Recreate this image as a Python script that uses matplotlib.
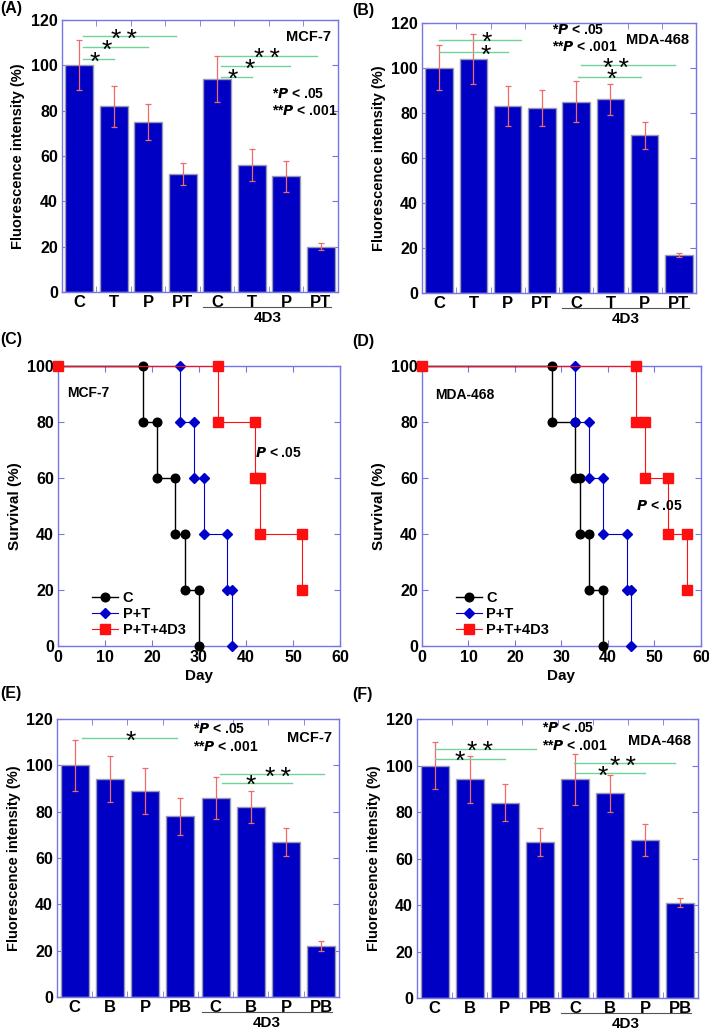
import matplotlib.pyplot as plt
import matplotlib.transforms as mtransforms
import numpy as np
from matplotlib.ticker import MultipleLocator, FixedLocator

plt.rcParams['font.family'] = ['Liberation Sans', 'DejaVu Sans']
plt.rcParams['font.weight'] = 'bold'
plt.rcParams['axes.labelweight'] = 'bold'

SPINE = '#7575e6'
BAR = '#0000c4'
ERR = '#f06a6a'
SIG = '#6fd39a'

# bar panels
labels_t = ['C', 'T', 'P', 'PT', 'C', 'T', 'P', 'PT']
labels_b = ['C', 'B', 'P', 'PB', 'C', 'B', 'P', 'PB']

a_vals = [100, 82, 75, 52, 94, 56, 51, 20]
a_err = [11, 9, 8, 5, 10, 7, 7, 1.5]
b_vals = [100, 104, 83, 82, 85, 86, 70, 17]
b_err = [10, 11, 9, 8, 9, 7, 6, 1]
e_vals = [100, 94, 89, 78, 86, 82, 67, 22]
e_err = [11, 10, 10, 8, 9, 7, 6, 2]
f_vals = [100, 94, 84, 67, 94, 88, 68, 41]
f_err = [10, 10, 8, 6, 11, 8, 7, 2]

# significance bars: (x_start, x_end, y, stars, star x)
a_sig = [(0.1, 1.0, 102.7, 1, 0.45), (0.1, 2.0, 107.9, 1, 0.8),
         (0.1, 2.8, 112.9, 2, 1.3), (4.1, 5.0, 95.0, 1, 4.45),
         (4.1, 6.1, 99.6, 1, 4.95), (4.1, 6.9, 104.3, 2, 5.45)]
b_sig = [(0.0, 2.4, 112.6, 1, 1.4), (0.0, 2.0, 107.0, 1, 1.35),
         (4.15, 6.9, 101.2, 2, 5.15), (4.05, 5.9, 96.2, 1, 5.05)]
e_sig = [(0.22, 2.9, 111.7, 1, 1.6), (4.13, 7.07, 96.1, 2, 5.76),
         (4.18, 6.17, 92.5, 1, 4.99)]
f_sig = [(0.02, 2.89, 107.3, 2, 1.3), (0.02, 2.0, 103.0, 1, 0.73),
         (3.97, 6.84, 101.1, 2, 5.37), (4.03, 6.0, 96.6, 1, 4.8)]

# survival panels: event days and survival after each event
c_days = {'C': [18, 21, 25, 27, 30], 'P+T': [26, 29, 31, 36, 37], 'P+T+4D3': [34, 42, 43, 52]}
c_surv = {'C': [80, 60, 40, 20, 0], 'P+T': [80, 60, 40, 20, 0], 'P+T+4D3': [80, 60, 40, 20]}
d_days = {'C': [28, 33, 34, 36, 39], 'P+T': [33, 36, 39, 44, 45], 'P+T+4D3': [46, 48, 53, 57]}
d_surv = {'C': [80, 60, 40, 20, 0], 'P+T': [80, 60, 40, 20, 0], 'P+T+4D3': [80, 60, 40, 20]}

styles = {'C': dict(color='black', marker='o', ms=6.2, lw=1.0),
          'P+T': dict(color='#0000cc', marker='D', ms=4.6, lw=0.8),
          'P+T+4D3': dict(color='#ff1010', marker='s', ms=6.8, lw=0.8)}

fig = plt.figure(figsize=(7.09, 10.31), dpi=100)


def style_axes(ax):
    for s in ax.spines.values():
        s.set_color(SPINE)
        s.set_linewidth(1.0)
    ax.tick_params(which='both', direction='in', color=SPINE, top=True, right=True,
                   labelsize=11.5, pad=3)


def bar_panel(rect, vals, err, labels, sig, cell, ptxt_xy, cell_y, tag, tag_xy):
    ax = fig.add_axes(rect)
    x = np.arange(len(vals))
    ax.bar(x, vals, width=0.8, color=BAR, edgecolor='#9a9ab4', linewidth=1.0, zorder=2)
    ax.errorbar(x, vals, yerr=err, fmt='none', ecolor=ERR, elinewidth=0.9,
                capsize=2, capthick=0.9, zorder=3)
    ax.set_xlim(-0.5, 7.5)
    ax.set_ylim(0, 120)
    ax.yaxis.set_major_locator(MultipleLocator(20))
    ax.set_xticks(x)
    ax.set_xticklabels(labels)
    ax.xaxis.set_minor_locator(FixedLocator(np.arange(0.5, 7, 1)))
    style_axes(ax)
    ax.tick_params(axis='x', which='major', length=0, labelsize=12, pad=2)
    ax.tick_params(axis='x', which='minor', length=4)
    ax.tick_params(axis='y', length=4)
    ax.set_ylabel('Fluorescence intensity (%)', fontsize=10.5, labelpad=4)
    for x0, x1, y, n, sx in sig:
        ax.plot([x0, x1], [y, y], color=SIG, lw=1.0, zorder=4)
        star = '*' if n == 1 else '*\u2009*'
        ax.annotate(star, (sx, y), xytext=(0, -7.6), textcoords='offset points',
                    fontsize=19, fontweight='normal', ha='center', va='baseline', zorder=5)
    ax.text(7.3, cell_y, cell, fontsize=10.5, ha='right', va='center')
    px, py = ptxt_xy
    ax.text(px, py, r'*$\boldsymbol{P}$ < .05', fontsize=10, ha='left', va='center')
    ax.text(px, py - 7.5, r'**$\boldsymbol{P}$ < .001', fontsize=10, ha='left', va='center')
    # group line and label under the 4D3 bars
    tr = ax.get_xaxis_transform()
    shift = mtransforms.ScaledTranslation(0, -15 / 100, fig.dpi_scale_trans)
    ax.plot([3.6, 7.3], [0, 0], color='#555555', lw=0.8, transform=tr + shift, clip_on=False)
    ax.annotate('4D3', (5.45, 0), xycoords=tr, xytext=(0, -18.5), textcoords='offset points',
                fontsize=11, ha='center', va='center')
    fig.text(tag_xy[0] / 709, 1 - tag_xy[1] / 1031, tag, fontsize=11.5, ha='left', va='top')
    return ax


def surv_panel(rect, days, surv, cell, cell_xy, p_xy, tag, tag_xy):
    ax = fig.add_axes(rect)
    for name in ['C', 'P+T', 'P+T+4D3']:
        t = np.repeat(days[name], 2)
        s_prev = [100] + surv[name][:-1]
        s = np.ravel(np.column_stack([s_prev, surv[name]]))
        xs = np.concatenate([[0], t])
        ys = np.concatenate([[100], s])
        st = styles[name]
        ax.plot(xs, ys, color=st['color'], marker=st['marker'], ms=st['ms'],
                lw=st['lw'], label=name, clip_on=False, zorder=3)
    ax.set_xlim(0, 60)
    ax.set_ylim(0, 100)
    ax.xaxis.set_major_locator(MultipleLocator(10))
    ax.yaxis.set_major_locator(MultipleLocator(20))
    style_axes(ax)
    ax.tick_params(length=4)
    ax.set_xlabel('Day', fontsize=11, labelpad=3)
    ax.set_ylabel('Survival (%)', fontsize=11, labelpad=4)
    ax.text(cell_xy[0], cell_xy[1], cell, fontsize=10, ha='center', va='center')
    ax.text(p_xy[0], p_xy[1], r'$\boldsymbol{P}$ < .05', fontsize=10, ha='center', va='center')
    ax.legend(loc='lower left', bbox_to_anchor=(0.09, 0.0), frameon=False, fontsize=10.5,
              handlelength=1.8, handletextpad=0.3, borderaxespad=0.2, labelspacing=0.15)
    fig.text(tag_xy[0] / 709, 1 - tag_xy[1] / 1031, tag, fontsize=11.5, ha='left', va='top')
    return ax


bar_panel([0.0874, 0.7168, 0.3893, 0.2638], a_vals, a_err, labels_t, a_sig,
          'MCF-7', (5.6, 87.5), 112.5, '(A)', (0, 1))
bar_panel([0.5952, 0.7158, 0.3865, 0.2619], b_vals, b_err, labels_t, b_sig,
          'MDA-468', (3.3, 117), 112.5, '(B)', (352, 3))
surv_panel([0.0818, 0.3734, 0.3977, 0.2716], c_days, c_surv, 'MCF-7', (6.5, 90.5),
           (47, 69), '(C)', (0, 332))
surv_panel([0.5952, 0.3734, 0.3935, 0.2716], d_days, d_surv, 'MDA-468', (9.2, 89.6),
           (51, 50), '(D)', (352, 334))
bar_panel([0.0804, 0.0330, 0.3977, 0.2696], e_vals, e_err, labels_b, e_sig,
          'MCF-7', (3.35, 115.6), 111.7, '(E)', (0, 686))
bar_panel([0.5882, 0.0320, 0.3963, 0.2706], f_vals, f_err, labels_b, f_sig,
          'MDA-468', (3.05, 116), 110.5, '(F)', (352, 687))

fig.savefig('out.png', dpi=100)
